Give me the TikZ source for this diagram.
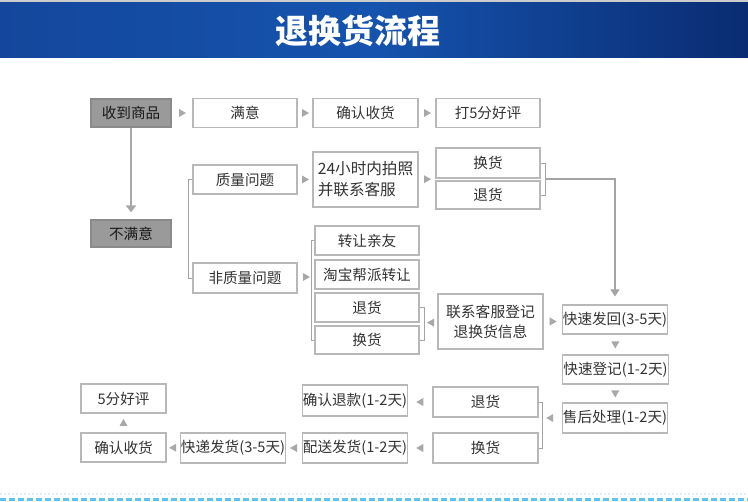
\documentclass[tikz,border=0pt]{standalone}
\usepackage{fontspec}
\setmainfont{Noto Sans CJK SC}
\usetikzlibrary{calc,arrows.meta}
\definecolor{boxline}{HTML}{B8B8B8}
\definecolor{txt}{HTML}{333333}
\definecolor{grayfill}{HTML}{9A9A9A}
\definecolor{grayedge}{HTML}{8A8A8A}
\definecolor{agray}{HTML}{A8A8A8}
\definecolor{lgray}{HTML}{A4A4A4}
\definecolor{bandL}{HTML}{14479C}
\definecolor{bandM}{HTML}{1553AE}
\definecolor{bandR}{HTML}{0A2C72}
\definecolor{dashblue}{HTML}{5EC4EE}
\definecolor{dotblue}{HTML}{DDF0F8}
\newcommand\arrR[2]{\path (#1) -- (#2) coordinate[midway] (m);
  \fill[agray] ($(m)+(-3,-4)$) -- ($(m)+(4,0)$) -- ($(m)+(-3,4)$) -- cycle;}
\newcommand\arrL[2]{\path (#1) -- (#2) coordinate[midway] (m);
  \fill[agray] ($(m)+(3,-4)$) -- ($(m)+(-4,0)$) -- ($(m)+(3,4)$) -- cycle;}
\newcommand\arrD[2]{\path (#1) -- (#2) coordinate[midway] (m);
  \fill[agray] ($(m)+(-4,-3)$) -- ($(m)+(0,4)$) -- ($(m)+(4,-3)$) -- cycle;}
\newcommand\arrU[2]{\path (#1) -- (#2) coordinate[midway] (m);
  \fill[agray] ($(m)+(-4,3)$) -- ($(m)+(0,-4)$) -- ($(m)+(4,3)$) -- cycle;}
\begin{document}
\begin{tikzpicture}[x=1pt,y=-1pt,
  box/.style={draw=boxline, line width=1.1pt, fill=white, minimum height=29pt,
    minimum width=104pt, inner sep=0.5pt, font=\fontsize{14.6}{18}\selectfont, text=txt},
  gbox/.style={box, fill=grayfill, draw=grayedge, text=black!90, minimum width=80pt},
  brk/.style={draw=lgray, line width=0.9pt},
  cline/.style={draw=lgray, line width=1.1pt, -{Triangle[length=7pt,width=9pt]}, color=lgray},
  vline/.style={draw=agray, line width=2pt, -{Triangle[length=7pt,width=10pt]}, color=agray}]
\useasboundingbox (0,0) rectangle (748,502);
% header band
\fill[white] (0,0) rectangle (748,502);
\shade[left color=bandL, right color=bandR, middle color=bandM] (0,2) rectangle (748,58);
\fill[gray!40] (0,0) rectangle (748,2);
\node[font=\fontsize{33}{36}\selectfont\bfseries, text=white] (title) at (358,31) {退换货流程};
% row 1
\node[gbox, minimum height=28pt] (n1) at (131,113) {收到商品};
\node[box] (n2) at (245,113) {满意};
\node[box, minimum width=105pt] (n3) at (365.5,113) {确认收货};
\node[box] (n4) at (488,113) {打5分好评};
\node[gbox, minimum height=27pt] (n5) at (131,233.5) {不满意};
% quality branch
\node[box] (q1) at (245,179.5) {质量问题};
\node[box, minimum width=105pt, minimum height=55pt, align=left,
  font=\fontsize{15.6}{21}\selectfont] (q2) at (365.5,179.5) {24小时内拍照\\并联系客服};
\node[box, minimum height=30pt] (q3) at (488,163) {换货};
\node[box, minimum height=28pt] (q4) at (488,195) {退货};
% non-quality branch
\node[box, minimum height=30pt] (nq) at (245,278) {非质量问题};
\node[box] (t1) at (367,240.5) {转让亲友};
\node[box] (t2) at (367,274.5) {淘宝帮派转让};
\node[box] (t3) at (367,307.5) {退货};
\node[box, minimum height=28pt] (t4) at (367,340) {换货};
\node[box, minimum width=105pt, minimum height=55pt, align=center,
  font=\fontsize{14.8}{20}\selectfont] (c1) at (490.5,321.5) {联系客服登记\\退换货信息};
% right column
\node[box] (r1) at (615,319.5) {快速发回(3-5天)};
\node[box, minimum width=105pt] (r2) at (615.5,369.5) {快速登记(1-2天)};
\node[box, minimum height=30pt] (r3) at (615,418) {售后处理(1-2天)};
% bottom rows
\node[box, minimum width=105pt, minimum height=30pt] (b1) at (485.5,402) {退货};
\node[box, minimum width=105pt, minimum height=30pt] (b2) at (485.5,448) {换货};
\node[box, minimum height=31pt] (b3) at (355,400.5) {确认退款(1-2天)};
\node[box, minimum height=30pt] (b4) at (355,448) {配送发货(1-2天)};
\node[box, minimum height=30pt] (b5) at (233,448) {快递发货(3-5天)};
\node[box, minimum width=85pt] (b6) at (123.5,447.5) {确认收货};
\node[box, minimum width=85pt] (b7) at (123.5,398.5) {5分好评};
% small arrow heads
\arrR{n1.east}{n2.west}
\arrR{n2.east}{n3.west}
\arrR{n3.east}{n4.west}
\arrR{q1.east}{q2.west}
\arrR{q2.east}{$(q3.west)!0.5!(q4.west)$}
\arrR{nq.east}{$(t2.west)!0.5!(t3.west)+(0,-15)$}
\arrR{c1.east}{c1.east -| r1.west}
\arrL{c1.west}{$(t3.east)!0.5!(t4.east)+(5,0)$}
\arrD{r1.south}{r2.north}
\arrD{r2.south}{r3.north}
\arrL{r3.west}{r3.west -| b1.east}
\arrL{b1.west}{b1.west -| b3.east}
\arrL{b2.west}{b4.east}
\arrL{b4.west}{b5.east}
\arrL{b5.west}{b6.east}
\arrU{b6.north}{b7.south}
% lines and brackets
\draw[vline] (n1.south) -- ($(n5.north)+(0,-7)$);
\draw[brk] (q1.west) -- ++(-4,0) |- (nq.west);
\draw[brk] (t1.west) -- ++(-3.5,0) |- (t4.west);
\draw[brk] (q3.east) -- ++(4.5,0) |- (q4.east);
\draw[brk] (t3.east) -- ++(5,0) |- (t4.east);
\draw[brk] (b1.east) -- ++(4,0) |- (b2.east);
\draw[cline] ($(q3.east)!0.5!(q4.east)+(4.5,0)$) -| ($(r1.north)+(0,-8)$);
% bottom dashed line
\draw[dotblue, line width=1.5pt, dash pattern=on 2pt off 2pt] (0,494) -- (748,494);
\draw[dashblue, line width=3pt, dash pattern=on 6pt off 3pt] (0,499.5) -- (748,499.5);
\end{tikzpicture}
\end{document}
